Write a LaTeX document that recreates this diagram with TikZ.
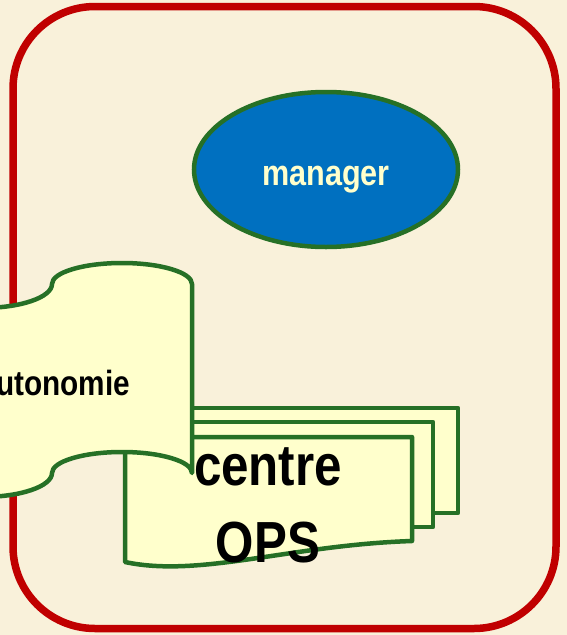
\documentclass[tikz,border=0pt]{standalone}
\usepackage{fontspec}
\setmainfont{Liberation Sans}
\newfontfamily\narrowsf[FakeStretch=0.85]{Liberation Sans}
\usetikzlibrary{shapes.geometric}
\definecolor{bgbeige}{RGB}{249,241,218}
\definecolor{framered}{RGB}{192,0,0}
\definecolor{edgegreen}{RGB}{38,112,38}
\definecolor{paleyellow}{RGB}{255,255,204}
\definecolor{mgrblue}{RGB}{0,112,192}

\begin{document}
\begin{tikzpicture}[x=1pt, y=-1pt,
  shapeedge/.style={draw=edgegreen, line width=4.5pt, line join=round},
  docfill/.style={shapeedge, fill=paleyellow},
  caption/.style={font=\narrowsf\bfseries, inner sep=0pt, anchor=base}]

% canvas
\fill[bgbeige] (0,0) rectangle (567,635);
\useasboundingbox (0,0) rectangle (567,635);
\clip (0,0) rectangle (567,635);

% outer rounded frame
\draw[framered, line width=7.5pt, rounded corners=82pt] (13,6.5) rectangle (556,628.5);

% manager ellipse
\node[ellipse, draw=edgegreen, line width=4.5pt, fill=mgrblue,
      minimum width=264pt, minimum height=155pt, inner sep=0pt] (manager) at (326,169.5) {};
\node[caption, text=paleyellow, font=\narrowsf\bfseries\fontsize{36}{40}\selectfont]
      (managerlabel) at (326,185) {manager};

% stacked documents: back, middle, front
\draw[docfill] (169,408) -- (458,408) -- (458,513) -- (169,513) -- cycle;
\draw[docfill] (147,422) -- (433,422) -- (433,527) -- (147,527) -- cycle;
\draw[docfill] (125,437) -- (412,437) -- (412,541)
      .. controls (290,545) and (200,578) .. (125,562) -- cycle;

% punched tape shape
\draw[docfill] (-88,284)
      .. controls (-88,297.3) and (-56.7,308) .. (-18,308)
      .. controls (20.7,308) and (52,297.3) .. (52,284)
      .. controls (52,272.4) and (83.3,263) .. (122,263)
      .. controls (160.7,263) and (192,272.4) .. (192,284)
      -- (192,473)
      .. controls (192,461.4) and (160.7,452) .. (122,452)
      .. controls (83.3,452) and (52,461.4) .. (52,473)
      .. controls (52,486.3) and (20.7,497) .. (-18,497)
      .. controls (-56.7,497) and (-88,486.3) .. (-88,473) -- cycle;
\node[caption, font=\narrowsf\bfseries\fontsize{35}{40}\selectfont]
      (autonomie) at (55,395) {autonomie};

% labels of the document stack
\node[caption, font=\narrowsf\bfseries\fontsize{58}{70}\selectfont]
      (centre) at (268,485) {centre};
\node[caption, font=\narrowsf\bfseries\fontsize{58}{70}\selectfont]
      (ops) at (268,562) {OPS};
\end{tikzpicture}
\end{document}
